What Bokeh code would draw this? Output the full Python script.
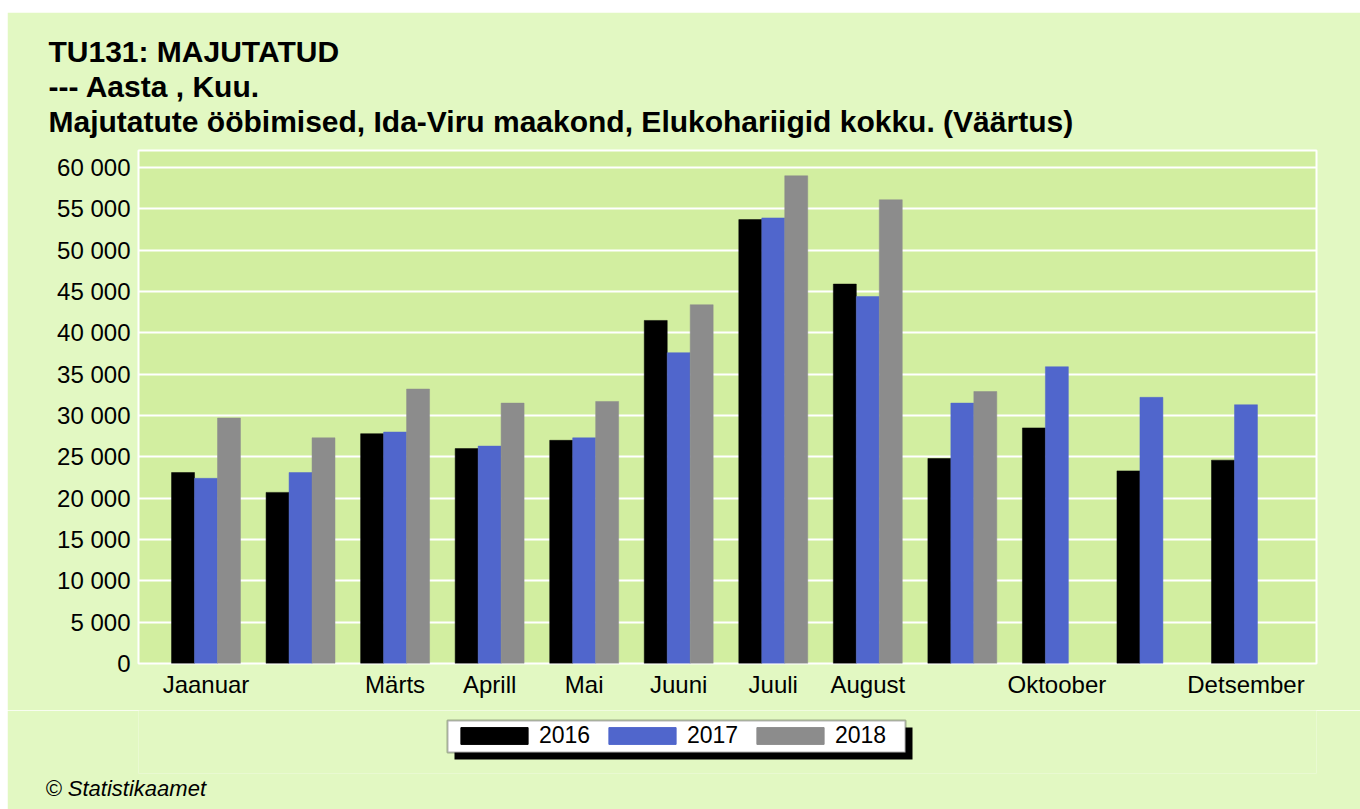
from bokeh.plotting import figure
from bokeh.layouts import column
from bokeh.models import (ColumnDataSource, Range1d, FixedTicker, Legend,
                          LegendItem, Title, BoxAnnotation)
from bokeh.transform import dodge
from bokeh.embed import file_html
from bokeh.resources import INLINE

# ---- data ----
months = ["Jaanuar", "Veebruar", "Märts", "Aprill", "Mai", "Juuni", "Juuli",
          "August", "September", "Oktoober", "November", "Detsember"]
shown_month_labels = ["Jaanuar", "", "Märts", "Aprill", "Mai", "Juuni", "Juuli",
                      "August", "", "Oktoober", "", "Detsember"]
years = ["2016", "2017", "2018"]
v2016 = [23100, 20700, 27800, 26000, 27000, 41500, 53700, 45900, 24800, 28500, 23300, 24600]
v2017 = [22400, 23100, 28000, 26300, 27300, 37600, 53900, 44400, 31500, 35900, 32200, 31300]
v2018 = [29700, 27300, 33200, 31500, 31700, 43400, 59000, 56100, 32900, None, None, None]
yticks = [0, 5000, 10000, 15000, 20000, 25000, 30000, 35000, 40000, 45000, 50000, 55000, 60000]
ytick_labels = ["0", "5 000", "10 000", "15 000", "20 000", "25 000", "30 000",
                "35 000", "40 000", "45 000", "50 000", "55 000", "60 000"]
title_lines = ["TU131: MAJUTATUD", "--- Aasta , Kuu.",
               "Majutatute ööbimised, Ida-Viru maakond, Elukohariigid kokku. (Väärtus)"]
footer = "© Statistikaamet"

colors = ["#000000", "#5066CC", "#8C8C8C"]
OUTER = "#E2F8C2"
INNER = "#D2EEA0"
FONT = "Liberation Sans"

idx = list(range(len(months)))
src = ColumnDataSource(dict(x=idx,
                            y2016=[float("nan") if v is None else v for v in v2016],
                            y2017=[float("nan") if v is None else v for v in v2017],
                            y2018=[float("nan") if v is None else v for v in v2018]))

# ---------------- main chart ----------------
p = figure(width=1353, height=698, output_backend="svg", toolbar_location=None,
           x_range=Range1d(-0.714, 11.746), y_range=Range1d(0, 62060),
           min_border_left=131, min_border_top=138, min_border_right=44,
           min_border_bottom=47, margin=(12, 0, 0, 7))
p.title_location = None
p.border_fill_color = OUTER
p.background_fill_color = INNER
p.outline_line_color = "white"
p.outline_line_width = 2

bw = 0.243
for i, (yr, col) in enumerate(zip(years, colors)):
    p.vbar(x=dodge("x", (i - 1) * bw), top="y" + yr, width=bw, source=src,
           fill_color=col, line_color=col, line_width=0.5)

p.xgrid.grid_line_color = None
p.ygrid.grid_line_color = "white"
p.ygrid.grid_line_width = 2
p.ygrid.ticker = FixedTicker(ticks=yticks)

p.yaxis.ticker = FixedTicker(ticks=yticks)
p.yaxis.major_label_overrides = {t: l for t, l in zip(yticks, ytick_labels)}
p.xaxis.ticker = FixedTicker(ticks=idx)
p.xaxis.major_label_overrides = {i: l for i, l in zip(idx, shown_month_labels)}
for ax in (p.xaxis, p.yaxis):
    ax.axis_line_color = None
    ax.major_tick_line_color = None
    ax.minor_tick_line_color = None
    ax.major_tick_out = 0
    ax.major_tick_in = 0
    ax.minor_tick_out = 0
    ax.major_label_text_font = FONT
    ax.major_label_text_font_size = "24px"
    ax.major_label_text_color = "#000000"
p.yaxis.major_label_standoff = 8
p.xaxis.major_label_standoff = 7

# spacer (nearest the frame), then the three title lines
p.add_layout(Title(text=" ", standoff=0, text_font=FONT, text_font_size="10px"), "above")
for line in reversed(title_lines):
    p.add_layout(Title(text=line, align="left", offset=-90, standoff=0,
                       text_font=FONT, text_font_style="bold", text_font_size="30px",
                       text_color="#000000"), "above")

# ---------------- legend + footer strip ----------------
p2 = figure(width=1353, height=99, output_backend="svg", toolbar_location=None,
            x_range=Range1d(-0.714, 11.746), y_range=Range1d(0, 1),
            x_axis_location=None, y_axis_location=None,
            min_border_left=0, min_border_right=0,
            min_border_top=0, min_border_bottom=36, margin=(0, 0, 0, 7))
p2.title_location = None
p2.grid.visible = False
p2.outline_line_color = None
p2.border_fill_color = OUTER
p2.background_fill_color = OUTER

# legend frame with drop shadow (screen units, relative to the frame)
p2.add_layout(BoxAnnotation(left=316, right=774, top=46, bottom=14,
                            left_units="screen", right_units="screen",
                            top_units="screen", bottom_units="screen",
                            fill_color="black", fill_alpha=1, line_color=None))
p2.add_layout(BoxAnnotation(left=309, right=767, top=53, bottom=21,
                            left_units="screen", right_units="screen",
                            top_units="screen", bottom_units="screen",
                            fill_color="white", fill_alpha=1, line_color="black",
                            line_width=2))

# hidden renderers that only supply the legend keys
key_renderers = [p2.vbar(x="x", top="y" + yr, width=bw, source=src, visible=False,
                         fill_color=col, line_color=col)
                 for yr, col in zip(years, colors)]
legend = Legend(items=[LegendItem(label=yr, renderers=[r]) for yr, r in zip(years, key_renderers)],
                orientation="horizontal", location=(314, 24),
                padding=0, margin=0, spacing=4, glyph_width=84, glyph_height=21,
                label_standoff=3, label_width=57,
                label_text_font=FONT, label_text_font_size="23px", label_text_color="#000000",
                inactive_fill_alpha=0,
                border_line_color=None, background_fill_alpha=0)
p2.add_layout(legend)

p2.add_layout(Title(text=footer, align="left", offset=-93, standoff=0,
                    text_font=FONT, text_font_style="italic", text_font_size="22px",
                    text_color="#000000"), "below")

layout = column(p, p2, spacing=0)
open("out.html", "w").write(file_html(layout, INLINE))
